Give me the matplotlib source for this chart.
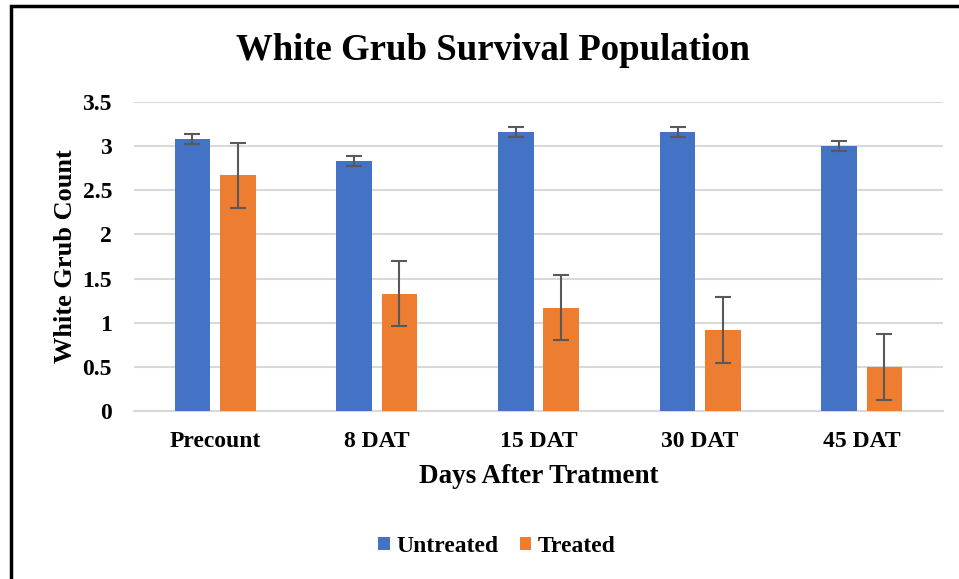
import numpy as np
import matplotlib.pyplot as plt
from matplotlib.patches import Rectangle

categories = ['Precount', '8 DAT', '15 DAT', '30 DAT', '45 DAT']
untreated = [3.08, 2.83, 3.16, 3.16, 3.00]
untreated_err = [0.06, 0.06, 0.06, 0.06, 0.06]
treated = [2.67, 1.33, 1.17, 0.92, 0.50]
treated_err = [0.37, 0.37, 0.37, 0.37, 0.37]

plt.rcParams['font.family'] = ['Liberation Serif', 'DejaVu Serif']
plt.rcParams['font.weight'] = 'bold'

fig = plt.figure(figsize=(9.59, 5.79), dpi=100)
ax = fig.add_axes([0.14, 0.29, 0.843, 0.534])

x = np.arange(len(categories))
w = 0.22
err_kw = dict(ecolor='#595959', elinewidth=1.5, capsize=6, capthick=1.5)
ax.bar(x - 0.14, untreated, w, color='#4472C4', yerr=untreated_err,
       error_kw=err_kw, label='Untreated', zorder=3)
ax.bar(x + 0.14, treated, w, color='#ED7D31', yerr=treated_err,
       error_kw=err_kw, label='Treated', zorder=3)

ax.set_xlim(-0.5, 4.5)
ax.set_ylim(0, 3.5)
ax.set_yticks(np.arange(0, 3.51, 0.5))
ax.set_yticklabels(['0', '0.5', '1', '1.5', '2', '2.5', '3', '3.5'])
ax.set_xticks(x)
ax.set_xticklabels(categories)
ax.tick_params(length=0, labelsize=17)
ax.tick_params(axis='x', pad=14)
ax.tick_params(axis='y', pad=16)
for lbl in ax.get_xticklabels() + ax.get_yticklabels():
    lbl.set_fontweight('bold')

ax.grid(axis='y', color='#d9d9d9', linewidth=1.5, zorder=0)
for s in ['top', 'right', 'left']:
    ax.spines[s].set_visible(False)
ax.spines['bottom'].set_color('#d9d9d9')
ax.spines['bottom'].set_linewidth(1.5)

ax.set_xlabel('Days After Tratment', fontsize=19.5, fontweight='bold', labelpad=9)
ax.set_ylabel('White Grub Count', fontsize=19, fontweight='bold', labelpad=4)
fig.text(0.514, 0.912, 'White Grub Survival Population', ha='center', va='center',
         fontsize=26.5, fontweight='bold')

leg = fig.legend(loc='center', bbox_to_anchor=(0.518, 0.056), ncol=2, frameon=False,
                 prop={'size': 17, 'weight': 'bold'}, handlelength=0.5, handleheight=0.5,
                 handletextpad=0.25, columnspacing=0.9)

fig.patches.append(Rectangle((11 / 959, -0.1), 1.2, 1 - 6 / 579 + 0.1,
                             transform=fig.transFigure, fill=False,
                             edgecolor='black', linewidth=2.5, clip_on=False))

plt.savefig('out.png', dpi=100)
